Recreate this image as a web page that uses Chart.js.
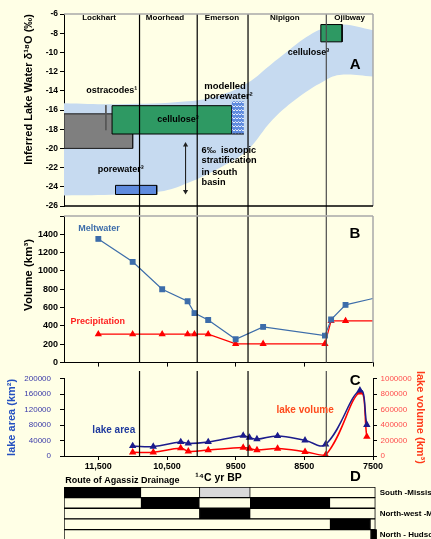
<!DOCTYPE html>
<html>
<head>
<meta charset="utf-8">
<title>Lake Agassiz</title>
<script src="https://cdn.jsdelivr.net/npm/chart.js@4.4.1/dist/chart.umd.min.js"></script>
<style>
  html, body { margin: 0; padding: 0; background: #FFFFE6; overflow: hidden; }
  #page { position: relative; width: 431px; height: 539px; overflow: hidden; }
  .panel { position: absolute; left: 0; width: 431px; }
</style>
</head>
<body>
<div id="page">
  <div class="panel" style="top:0;height:216px"><canvas id="chartA"></canvas></div>
  <div class="panel" style="top:206px;height:164px"><canvas id="chartB"></canvas></div>
  <div class="panel" style="top:365px;height:120px"><canvas id="chartC"></canvas></div>
  <div class="panel" style="top:466px;height:82px"><canvas id="chartD"></canvas></div>
</div>
<script>
// time axis (14C yr BP)
const yearTicks = [11500, 10500, 9500, 8500, 7500];
const stageBounds = [10900, 10060, 9320, 8180];
const stageNames = ['Lockhart', 'Moorhead', 'Emerson', 'Nipigon', 'Ojibway'];
const stageMid = [11490, 10530, 9700, 8785, 7840];

// panel A - inferred lake water d18O
const bandTopYears = [12000, 11200, 10200, 9700, 9330, 8960, 8720, 8470, 8230, 7940, 7500];
const bandTop = [-15.3, -15.4, -15.1, -14.4, -13.2, -11.1, -9.75, -8.4, -7.5, -7.1, -7.7];
const bandLowYears = [12000, 11200, 10600, 10200, 9700, 9330, 8960, 8570, 8230, 7990, 7500];
const bandLow = [-24.9, -24.8, -24.5, -23.6, -21.9, -20.2, -17.0, -14.6, -13.05, -12.35, -12.5];
const ostracodeYears = [12000, 11000], ostracodeD18O = [-16.4, -20.0];
const celluloseYears = [11300, 9560], celluloseD18O = [-15.55, -18.5];
const modelledYears = [9560, 9380], modelledD18O = [-15.1, -18.5];
const porewaterYears = [11250, 10650], porewaterD18O = [-23.85, -24.8];
const ojibwayYears = [8260, 7950], ojibwayD18O = [-7.1, -8.9];
const leaderYears = [11390, 11390], leaderD18O = [-15.5, -18.1];
const arrowYears = [10230, 10230], arrowD18O = [-19.65, -24.5];

// panel B - volumes
const flowYears = [11500, 11000, 10570, 10200, 10100, 9900, 9500, 9100, 8200, 8110, 7900, 7500];
const meltwater = [1350, 1100, 800, 670, 540, 465, 255, 390, 295, 470, 630, 700];
const precipitation = [310, 310, 310, 310, 310, 310, 205, 205, 205, 455, 455, 455];

// panel C - lake area / volume
const lakeYears = [11000, 10700, 10300, 10190, 9900, 9390, 9300, 9190, 8890, 8490, 8190, 7690, 7590];
const lakeArea = [26000, 24300, 36400, 32500, 36400, 52700, 47800, 43700, 51900, 40500, 30000, 170000, 81000];
const lakeVolume = [48500, 48500, 102000, 61000, 77700, 109000, 97000, 77700, 97000, 55000, 12000, 825000, 250000];

// panel D - drainage routes
const routeNames = ['South -Mississippi', 'East - via Great Lakes', 'North-west -Mackenzie', 'East - via L. Ojibway', 'North - Hudson Bay'];
const routeEnds = [7470, 7470, 7470, 7470, 7450];
const routeOpen = [[[12000, 10880]], [[10880, 10030], [9290, 8130]], [[10030, 9290]], [[8130, 7540]], [[7540, 7450]]];
const routeUncertain = [[[10030, 9290]], [], [], [], []];

const YEAR_MIN = 7500, YEAR_MAX = 12000;
const CREAM = '#FFFFE6', GRAY = '#A8A8A8', NONE = 'rgba(0,0,0,0)';
const FONT = "'Liberation Sans', Arial, 'DejaVu Sans', sans-serif";

Chart.defaults.font.family = FONT;
Chart.defaults.font.weight = 'bold';
Chart.defaults.color = '#000';
Chart.defaults.animation = false;
Chart.defaults.events = [];
Chart.defaults.plugins.legend.display = false;
Chart.defaults.plugins.tooltip.enabled = false;
Chart.defaults.maintainAspectRatio = false;

function pts(xs, ys) { return xs.map((x, i) => ({ x: x, y: ys[i] })); }
function fitWidth(w) { return s => { s.width = w; }; }
function fitHeight(h) { return s => { s.height = h; }; }
function putYearTicks(s) { s.ticks = yearTicks.map(v => ({ value: v })); }
function yearAxis(extra) {
  return Object.assign({ type: 'linear', reverse: true, min: YEAR_MIN, max: YEAR_MAX, display: false }, extra || {});
}

const boundColors = ['#000', '#000', '#000', '#4d4d4d'];
function stageLines(lo, hi, axis) {
  return stageBounds.map((yr, i) => ({
    data: pts([yr, yr], [hi, lo]), yAxisID: axis || 'y',
    borderColor: boundColors[i], borderWidth: 1.2, pointRadius: 0, clip: false, order: 0
  }));
}

function boxFill(xs, ys, color, order) {
  return { data: pts(xs, [ys[0], ys[0]]), fill: { value: ys[1] }, backgroundColor: color,
           borderColor: NONE, borderWidth: 0, pointRadius: 0, order: order };
}
function boxEdge(xs, ys, color, order) {
  return { data: pts([xs[0], xs[1], xs[1], xs[0], xs[0]], [ys[0], ys[0], ys[1], ys[1], ys[0]]),
           borderColor: color, borderWidth: 1, pointRadius: 0, fill: false, order: order };
}

// frame sides not drawn by the axes
function framePlugin(sides) {
  return {
    id: 'frame',
    afterDatasetsDraw(chart) {
      const a = chart.chartArea, c = chart.ctx;
      c.save();
      c.lineWidth = 1.5;
      Object.keys(sides).forEach(side => {
        c.strokeStyle = sides[side];
        c.beginPath();
        if (side === 'top') { c.moveTo(a.left, a.top); c.lineTo(a.right, a.top); }
        if (side === 'right') { c.moveTo(a.right, a.top); c.lineTo(a.right, a.bottom); }
        if (side === 'bottom') { c.moveTo(a.left, a.bottom); c.lineTo(a.right, a.bottom); }
        c.stroke();
      });
      c.restore();
    }
  };
}

// text annotations placed with the chart scales
function notesPlugin(notes) {
  return {
    id: 'notes',
    afterDatasetsDraw(chart) {
      const c = chart.ctx;
      notes.forEach(n => {
        const x = chart.scales.x.getPixelForValue(n.x);
        const y = n.top !== undefined ? chart.chartArea.top + n.top
                                      : chart.scales[n.axis || 'y'].getPixelForValue(n.y);
        c.save();
        c.font = 'bold ' + (n.size || 9) + 'px ' + FONT;
        c.fillStyle = n.color || '#000';
        c.textAlign = n.align || 'center';
        c.textBaseline = 'middle';
        c.fillText(n.text, x, y);
        c.restore();
      });
    }
  };
}

// ---------- panel A ----------
const ctxA = document.getElementById('chartA').getContext('2d');
const hatch = (() => {
  const p = document.createElement('canvas');
  p.width = 6; p.height = 4;
  const g = p.getContext('2d');
  g.fillStyle = '#5F8BDE'; g.fillRect(0, 0, 6, 4);
  g.strokeStyle = '#E6EDFA'; g.lineWidth = 1;
  g.beginPath(); g.moveTo(0, 3); g.lineTo(1.5, 1.5); g.lineTo(3, 3); g.lineTo(4.5, 1.5); g.lineTo(6, 3); g.stroke();
  return ctxA.createPattern(p, 'repeat');
})();

const notesA = stageNames.map((t, i) => ({ text: t, x: stageMid[i], y: -6.35, size: 8 })).concat([
  { text: 'ostracodes¹', x: 11306, y: -14.0 },
  { text: 'cellulose³', x: 10341, y: -16.94 },
  { text: 'modelled', x: 9958, y: -13.5, align: 'left', size: 9.5 },
  { text: 'porewater²', x: 9958, y: -14.6, align: 'left', size: 9.5 },
  { text: '6‰  isotopic', x: 9997, y: -20.17, align: 'left', size: 9.2 },
  { text: 'stratification', x: 9997, y: -21.3, align: 'left', size: 9.2 },
  { text: 'in south', x: 9997, y: -22.5, align: 'left', size: 9.2 },
  { text: 'basin', x: 9997, y: -23.6, align: 'left', size: 9.2 },
  { text: 'porewater³', x: 11175, y: -22.25 },
  { text: 'cellulose³', x: 8440, y: -10.0 },
  { text: 'A', x: 7758, y: -11.3, size: 15 }
]);

new Chart(ctxA, {
  type: 'line',
  data: {
    datasets: [
      { data: pts(bandTopYears, bandTop), fill: '+1', backgroundColor: '#C6DAF0', borderColor: NONE, borderWidth: 0, pointRadius: 0, tension: 0.4, order: 20 },
      { data: pts(bandLowYears, bandLow), fill: false, borderColor: NONE, borderWidth: 0, pointRadius: 0, tension: 0.4, order: 20 },
      boxFill(ostracodeYears, ostracodeD18O, '#7F7F7F', 16),
      boxEdge(ostracodeYears, ostracodeD18O, '#1a1a1a', 15),
      boxFill(celluloseYears, celluloseD18O, '#2E9963', 14),
      boxEdge(celluloseYears, celluloseD18O, '#000', 13),
      boxFill(modelledYears, modelledD18O, hatch, 12),
      { data: pts(modelledYears, [modelledD18O[1], modelledD18O[1]]), borderColor: '#000', borderWidth: 1, pointRadius: 0, order: 11 },
      boxFill(porewaterYears, porewaterD18O, '#5F8BDE', 14),
      boxEdge(porewaterYears, porewaterD18O, '#000', 13),
      boxFill(ojibwayYears, ojibwayD18O, '#2E9963', 14),
      boxEdge(ojibwayYears, ojibwayD18O, '#000', 13),
      { data: pts(leaderYears, leaderD18O), borderColor: '#555', borderWidth: 1, pointRadius: 0, order: 5 },
      { data: pts(arrowYears, arrowD18O), borderColor: '#222', borderWidth: 1, pointStyle: 'triangle',
        pointRadius: 3, pointRotation: [0, 180], pointBackgroundColor: '#222', pointBorderWidth: 0, order: 5 }
    ].concat(stageLines(-27, -6))
  },
  options: {
    layout: { padding: { left: 0, right: 58, top: 14, bottom: 10 } },
    scales: {
      x: yearAxis(),
      y: {
        min: -26, max: -6, afterFit: fitWidth(64),
        ticks: { stepSize: 2, padding: 2, font: { size: 8.5 }, callback: v => String(v) },
        grid: { drawOnChartArea: false, tickLength: 4, color: '#000' },
        border: { color: '#000' },
        title: { display: true, text: 'Inferred Lake Water δ¹⁸O (‰)', align: 'end', padding: { top: 22 }, font: { size: 11 } }
      }
    }
  },
  plugins: [framePlugin({ top: GRAY, right: GRAY, bottom: '#000' }), notesPlugin(notesA)]
});

// ---------- panel B ----------
const notesB = [
  { text: 'Meltwater', x: 11490, y: 1465, color: '#3D6DAA' },
  { text: 'Precipitation', x: 11508, y: 450, color: '#FF2020' },
  { text: 'B', x: 7765, y: 1410, size: 15 }
];

new Chart(document.getElementById('chartB'), {
  type: 'line',
  data: {
    datasets: [
      { data: pts(flowYears, meltwater), borderColor: '#3D6DAA', backgroundColor: '#3D6DAA', borderWidth: 1.2,
        pointStyle: 'rect', pointRadius: flowYears.map((_, i) => i === flowYears.length - 1 ? 0 : 3.3), order: 2 },
      { data: pts(flowYears, precipitation), borderColor: '#FF0000', backgroundColor: '#FF0000', borderWidth: 1.2,
        pointStyle: 'triangle', pointRadius: flowYears.map((_, i) => i === flowYears.length - 1 ? 0 : 3), order: 3 }
    ].concat(stageLines(0, 1600))
  },
  options: {
    layout: { padding: { left: 0, right: 58, top: 10, bottom: 1 } },
    scales: {
      x: yearAxis({ display: true, afterBuildTicks: putYearTicks, afterFit: fitHeight(4),
        ticks: { display: false },
        grid: { drawOnChartArea: false, tickLength: 4, color: '#000' },
        border: { color: '#000' } }),
      y: {
        min: 0, max: 1600, afterFit: fitWidth(64),
        ticks: { stepSize: 200, padding: 2, font: { size: 9 }, callback: v => v === 1600 ? '' : String(v) },
        grid: { drawOnChartArea: false, tickLength: 4, color: '#000' },
        border: { color: '#000' },
        title: { display: true, text: '         Volume (km³)', padding: { top: 22 }, font: { size: 11.5 } }
      }
    }
  },
  plugins: [framePlugin({ top: GRAY, right: GRAY }), notesPlugin(notesB)]
});

// ---------- panel C ----------
const notesC = [
  { text: 'lake area', x: 11275, y: 68000, color: '#1F3A9E', size: 10 },
  { text: 'lake volume', x: 8489, y: 117500, color: '#FF4A1C', size: 10 },
  { text: 'C', x: 7758, y: 194000, size: 15 }
];

new Chart(document.getElementById('chartC'), {
  type: 'line',
  data: {
    datasets: [
      { data: pts(lakeYears, lakeArea), yAxisID: 'y', borderColor: '#1C1C8C', backgroundColor: '#1C1C8C', borderWidth: 1.5,
        pointStyle: 'triangle', pointRadius: 2.8, tension: 0.4, order: 2 },
      { data: pts(lakeYears, lakeVolume), yAxisID: 'y2', borderColor: '#FF0000', backgroundColor: '#FF0000', borderWidth: 1.5,
        pointStyle: 'triangle', pointRadius: 2.8, tension: 0.4, order: 3 }
    ].concat(stageLines(0, 220000, 'y'))
  },
  options: {
    layout: { padding: { left: 0, right: 0, top: 8, bottom: 0 } },
    scales: {
      x: yearAxis({ display: true, afterBuildTicks: putYearTicks, afterFit: fitHeight(29),
        ticks: { autoSkip: false, maxRotation: 0, padding: 1, font: { size: 9 },
                 callback: v => v >= 10000 ? v.toLocaleString('en-US') : String(v) },
        grid: { drawOnChartArea: false, tickLength: 4, color: '#000' },
        border: { color: '#000' },
        title: { display: true, text: '¹⁴C yr BP', font: { size: 10.5 }, padding: { top: 0, bottom: 1 } } }),
      y: {
        position: 'left', min: 0, max: 200000, afterFit: fitWidth(64),
        ticks: { stepSize: 40000, padding: 9, color: '#3A3AA8', font: { size: 8, weight: 'normal' }, callback: v => String(v) },
        grid: { drawOnChartArea: false, tickLength: 4, color: '#000' },
        border: { color: '#000' },
        title: { display: true, text: 'lake area (km²)', color: '#2450C0', padding: { top: 5 }, font: { size: 11 } }
      },
      y2: {
        position: 'right', min: 0, max: 1000000, afterFit: fitWidth(58),
        ticks: { stepSize: 200000, padding: 3.5, color: '#FF4D4D', font: { size: 8, weight: 'normal' }, callback: v => String(v) },
        grid: { drawOnChartArea: false, tickLength: 4, color: '#000' },
        border: { color: '#000' },
        title: { display: true, text: 'lake volume (km³)', color: '#FF3A1A', padding: { top: 4 }, font: { size: 11 } }
      }
    }
  },
  plugins: [notesPlugin(notesC)]
});

// ---------- panel D ----------
const notesD = [
  { text: 'Route of Agassiz Drainage', x: 11980, top: -6, align: 'left', size: 9 },
  { text: 'D', x: 7760, top: -10.5, size: 15 }
];

function routeBars(list) {
  return list.flatMap((segs, i) => segs.map(s => ({ x: s, y: routeNames[i] })));
}

new Chart(document.getElementById('chartD'), {
  type: 'bar',
  data: {
    labels: routeNames,
    datasets: [
      { data: routeNames.map((n, i) => ({ x: [routeEnds[i], YEAR_MAX], y: n })), backgroundColor: CREAM, order: 3 },
      { data: routeBars(routeOpen), backgroundColor: '#000', order: 2 },
      { data: routeBars(routeUncertain), backgroundColor: '#D9D9D9', order: 1 }
    ]
  },
  options: {
    indexAxis: 'y',
    layout: { padding: { left: 64, right: 0, top: 21, bottom: 6 } },
    datasets: { bar: { grouped: false, barPercentage: 1, categoryPercentage: 1, borderColor: '#000', borderWidth: 1, borderSkipped: false } },
    scales: {
      x: { type: 'linear', reverse: true, min: 7450, max: YEAR_MAX, display: false },
      y: { type: 'category', position: 'right', afterFit: fitWidth(54.3),
           grid: { display: false, drawTicks: false }, border: { display: false },
           ticks: { padding: 3, font: { size: 8 }, color: '#000' } }
    }
  },
  plugins: [notesPlugin(notesD)]
});
</script>
</body>
</html>
